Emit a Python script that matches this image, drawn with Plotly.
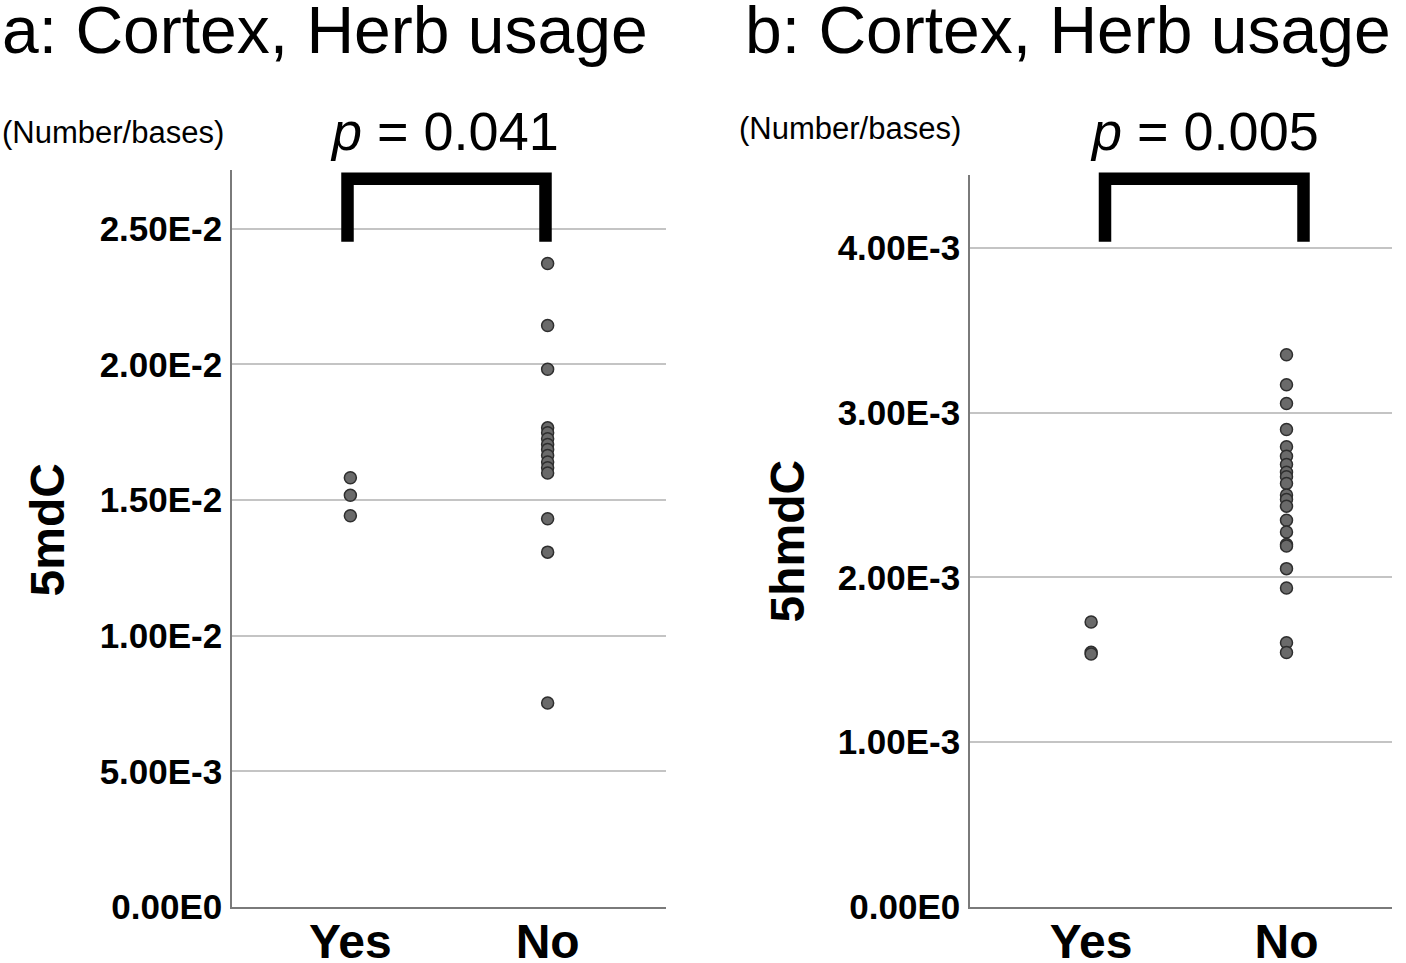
import plotly.graph_objects as go

W, H = 1406, 963
H_LAYOUT = 981  # the photographed page is vertically compressed to 963

categories = ["Yes", "No"]

# Panel a: 5mdC (Number/bases)
yes_5mdC = [0.01582, 0.01518, 0.01442]
no_5mdC = [0.02372, 0.02143, 0.01982, 0.01766, 0.01748, 0.01726, 0.01705,
           0.01686, 0.01664, 0.01640, 0.01619, 0.01600, 0.01431, 0.01308, 0.00752]

# Panel b: 5hmdC (Number/bases)
yes_5hmdC = [0.001729, 0.001545, 0.001535]
no_5hmdC = [0.003350, 0.003168, 0.003055, 0.002897, 0.002792, 0.002735, 0.002685,
            0.002638, 0.002610, 0.002570, 0.002500, 0.002473, 0.002432, 0.002347,
            0.002275, 0.002200, 0.002190, 0.002053, 0.001935, 0.001604, 0.001544]

ticks_a = [0, 0.005, 0.010, 0.015, 0.020, 0.025]
ticklabels_a = ["0.00E0", "5.00E-3", "1.00E-2", "1.50E-2", "2.00E-2", "2.50E-2"]
ticks_b = [0, 0.001, 0.002, 0.003, 0.004]
ticklabels_b = ["0.00E0", "1.00E-3", "2.00E-3", "3.00E-3", "4.00E-3"]

titles = ["a: Cortex, Herb usage", "b: Cortex, Herb usage"]
ytitles = ["5mdC", "5hmdC"]
pvalues = ["0.041", "0.005"]
unit = "(Number/bases)"

FONT = "Liberation Sans, Arial, Helvetica, sans-serif"


def px(x):
    return x / W


def py(y):
    return (H - y) / H


marker = dict(size=12, color="#6a6a6a", line=dict(color="#2e2e2e", width=1.5))

fig = go.Figure()
for xa, ya, yes, no in [("x", "y", yes_5mdC, no_5mdC), ("x2", "y2", yes_5hmdC, no_5hmdC)]:
    fig.add_trace(go.Scatter(x=[categories[0]] * len(yes) + [categories[1]] * len(no),
                             y=yes + no, mode="markers", marker=marker,
                             xaxis=xa, yaxis=ya, showlegend=False, hoverinfo="y"))

axis_common = dict(showline=True, linecolor="#7a7a7a", linewidth=1.5, ticks="",
                   zeroline=False, fixedrange=True)
xfont = dict(family=FONT, size=48, color="black", weight="bold")
yfont = dict(family=FONT, size=35, color="black", weight="bold")

fig.update_layout(
    width=W, height=H_LAYOUT, margin=dict(l=0, r=0, t=0, b=0),
    paper_bgcolor="white", plot_bgcolor="white",
    xaxis=dict(domain=[px(232), px(666)], anchor="y", type="category",
               categoryorder="array", categoryarray=categories, range=[-0.6, 1.6],
               showgrid=False, tickfont=xfont, ticklabelstandoff=-8, **axis_common),
    yaxis=dict(domain=[py(908), py(170)], anchor="x", range=[0, 0.02717],
               tickvals=ticks_a, ticktext=ticklabels_a, showgrid=True,
               gridcolor="#c4c4c4", gridwidth=1.5, tickfont=yfont,
               ticklabelstandoff=1, **axis_common),
    xaxis2=dict(domain=[px(970), px(1392)], anchor="y2", type="category",
                categoryorder="array", categoryarray=categories, range=[-0.62, 1.54],
                showgrid=False, tickfont=xfont, ticklabelstandoff=-8, **axis_common),
    yaxis2=dict(domain=[py(908), py(175)], anchor="x2", range=[0, 0.004442],
                tickvals=ticks_b, ticktext=ticklabels_b, showgrid=True,
                gridcolor="#c4c4c4", gridwidth=1.5, tickfont=yfont,
                ticklabelstandoff=1, **axis_common),
)

ann = []
# Titles
ann.append(dict(x=px(325), y=py(30), text=titles[0], font=dict(family=FONT, size=66, color="black")))
ann.append(dict(x=px(1068), y=py(30), text=titles[1], font=dict(family=FONT, size=66, color="black")))
# Units
ann.append(dict(x=px(113), y=py(133), text=unit, font=dict(family=FONT, size=31, color="black")))
ann.append(dict(x=px(850), y=py(129), text=unit, font=dict(family=FONT, size=31, color="black")))
# p-values
ann.append(dict(x=px(444), y=py(131), text="<i>p</i> = " + pvalues[0], font=dict(family=FONT, size=54, color="black")))
ann.append(dict(x=px(1204), y=py(131), text="<i>p</i> = " + pvalues[1], font=dict(family=FONT, size=54, color="black")))
# Y titles
ann.append(dict(x=px(47), y=py(531), text="<b>" + ytitles[0] + "</b>", textangle=-90,
                font=dict(family=FONT, size=48, color="black")))
ann.append(dict(x=px(787), y=py(542), text="<b>" + ytitles[1] + "</b>", textangle=-90,
                font=dict(family=FONT, size=48, color="black")))
for a in ann:
    a.update(xref="paper", yref="paper", showarrow=False, xanchor="center", yanchor="middle")
fig.update_layout(annotations=ann)

# Significance brackets (left leg, right leg in page pixels)
for xl, xr in [(347.5, 545.5), (1105, 1303.5)]:
    yb, yt = py(242), py(179)
    fig.add_shape(type="path", xref="paper", yref="paper",
                  path=f"M {px(xl)},{yb} L {px(xl)},{yt} L {px(xr)},{yt} L {px(xr)},{yb}",
                  line=dict(color="black", width=12.5))

page_js = (
    "document.documentElement.style.margin='0';"
    "document.body.style.margin='0';"
)

fig.write_html("out.html", config={"displayModeBar": False}, post_script=page_js)
